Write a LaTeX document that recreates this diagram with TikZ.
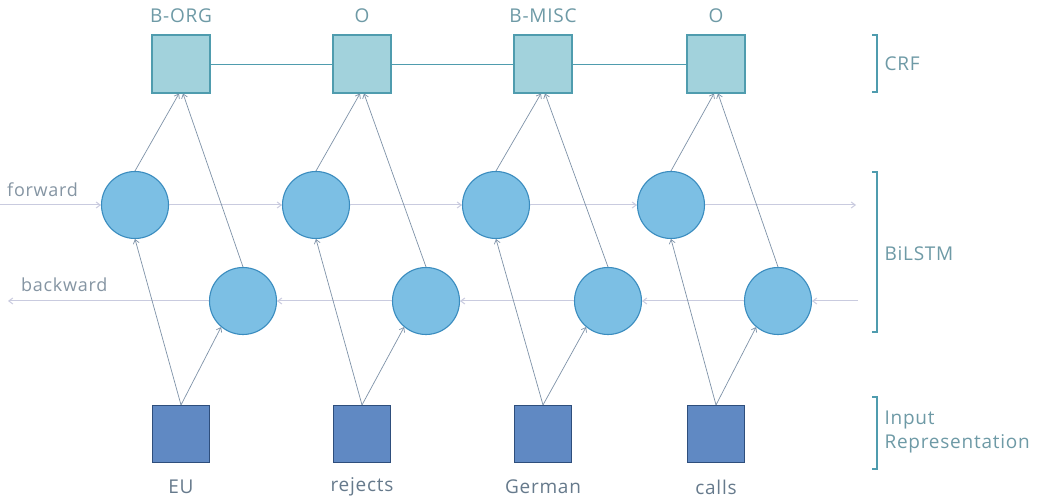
\documentclass[tikz,border=0pt]{standalone}
\usepackage{fontspec}
\setmainfont{Open Sans}[LetterSpace=4]
\usetikzlibrary{arrows.meta}

\definecolor{crffill}{HTML}{A2D2DC}
\definecolor{crfdraw}{HTML}{4F9CAE}
\definecolor{cellfill}{HTML}{7CBFE4}
\definecolor{celldraw}{HTML}{3A8CBF}
\definecolor{infill}{HTML}{6089C3}
\definecolor{indraw}{HTML}{2E4E7C}
\definecolor{tagtext}{HTML}{6E9AA6}
\definecolor{wordtext}{HTML}{667A8C}
\definecolor{flowline}{HTML}{C9CBDF}
\definecolor{linkline}{HTML}{7E92A8}

\tikzset{
  crfbox/.style={draw=crfdraw,fill=crffill,line width=1.1pt,minimum size=58pt,inner sep=0pt},
  lstmcell/.style={circle,draw=celldraw,fill=cellfill,line width=1.1pt,minimum size=67pt,inner sep=0pt},
  inbox/.style={draw=indraw,fill=infill,line width=1.1pt,minimum size=57pt,inner sep=0pt},
  tagtxt/.style={text=tagtext,font=\fontsize{19}{22}\selectfont},
  wordtxt/.style={text=wordtext,font=\fontsize{19}{22}\selectfont},
  sidetxt/.style={text=tagtext,font=\fontsize{19}{24}\selectfont,anchor=west,align=left},
  dirtxt/.style={text=wordtext!80,font=\fontsize{18}{20}\selectfont,anchor=south west,inner sep=0pt},
  link/.style={draw=linkline,line width=0.7pt,-{Straight Barb[length=4pt,width=6pt]}},
  flow/.style={draw=flowline,line width=1pt,-{Straight Barb[length=4pt,width=6pt]}},
  crfedge/.style={draw=crfdraw,line width=0.9pt},
  brace/.style={draw=crfdraw,line width=1.3pt}
}

\begin{document}
\begin{tikzpicture}[x=1pt,y=-1pt]
  \useasboundingbox[fill=white] (0,0) rectangle (1044,502);

  % CRF layer
  \node[crfbox] (crf1) at (181,64) {};
  \node[crfbox] (crf2) at (362,64) {};
  \node[crfbox] (crf3) at (543,64) {};
  \node[crfbox] (crf4) at (716,64) {};
  \draw[crfedge] (crf1) -- (crf2);
  \draw[crfedge] (crf2) -- (crf3);
  \draw[crfedge] (crf3) -- (crf4);

  % Tags
  \node[tagtxt] (tag1) at (181,16) {B-ORG};
  \node[tagtxt] (tag2) at (362,16) {O};
  \node[tagtxt] (tag3) at (543,16) {B-MISC};
  \node[tagtxt] (tag4) at (716,16) {O};

  % Forward cells
  \node[lstmcell] (fw1) at (135,205) {};
  \node[lstmcell] (fw2) at (316,205) {};
  \node[lstmcell] (fw3) at (496,205) {};
  \node[lstmcell] (fw4) at (671,205) {};

  % Backward cells
  \node[lstmcell] (bw1) at (243,301) {};
  \node[lstmcell] (bw2) at (426,301) {};
  \node[lstmcell] (bw3) at (608,301) {};
  \node[lstmcell] (bw4) at (778,301) {};

  % Input layer
  \node[inbox] (in1) at (181,434) {};
  \node[inbox] (in2) at (362,434) {};
  \node[inbox] (in3) at (543,434) {};
  \node[inbox] (in4) at (716,434) {};

  % Words
  \node[wordtxt] (word1) at (181,487) {EU};
  \node[wordtxt] (word2) at (362,487) {rejects};
  \node[wordtxt] (word3) at (543,487) {German};
  \node[wordtxt] (word4) at (716,487) {calls};

  % Forward direction
  \coordinate (fwin) at (0,205);
  \coordinate (fwout) at (856,205);
  \draw[flow] (fwin) -- (fw1);
  \draw[flow] (fw1) -- (fw2);
  \draw[flow] (fw2) -- (fw3);
  \draw[flow] (fw3) -- (fw4);
  \draw[flow] (fw4) -- (fwout);
  \node[dirtxt] (fwlabel) at (7,197) {forward};

  % Backward direction
  \coordinate (bwin) at (858,301);
  \coordinate (bwout) at (8,301);
  \draw[flow] (bwin) -- (bw4);
  \draw[flow] (bw4) -- (bw3);
  \draw[flow] (bw3) -- (bw2);
  \draw[flow] (bw2) -- (bw1);
  \draw[flow] (bw1) -- (bwout);
  \node[dirtxt] (bwlabel) at (21,292) {backward};

  % Input to cells
  \draw[link] (in1.north) -- (fw1.south);
  \draw[link] (in1.north) -- (bw1.230);
  \draw[link] (in2.north) -- (fw2.south);
  \draw[link] (in2.north) -- (bw2.230);
  \draw[link] (in3.north) -- (fw3.south);
  \draw[link] (in3.north) -- (bw3.230);
  \draw[link] (in4.north) -- (fw4.south);
  \draw[link] (in4.north) -- (bw4.230);

  % Cells to CRF
  \draw[link] (fw1.north) -- ([xshift=-2pt]crf1.south);
  \draw[link] (bw1.north) -- ([xshift=2pt]crf1.south);
  \draw[link] (fw2.north) -- ([xshift=-2pt]crf2.south);
  \draw[link] (bw2.north) -- ([xshift=2pt]crf2.south);
  \draw[link] (fw3.north) -- ([xshift=-2pt]crf3.south);
  \draw[link] (bw3.north) -- ([xshift=2pt]crf3.south);
  \draw[link] (fw4.north) -- ([xshift=-2pt]crf4.south);
  \draw[link] (bw4.north) -- ([xshift=2pt]crf4.south);

  % Layer brackets
  \draw[brace] (872,35) -- (877,35) -- (877,92) -- (872,92);
  \draw[brace] (872,172) -- (877,172) -- (877,332) -- (872,332);
  \draw[brace] (872,397) -- (877,397) -- (877,469) -- (872,469);
  \node[sidetxt] (crfname) at (881,64) {CRF};
  \node[sidetxt] (lstmname) at (881,254) {BiLSTM};
  \node[sidetxt] (inname) at (881,432) {Input\\Representation};
\end{tikzpicture}
\end{document}
